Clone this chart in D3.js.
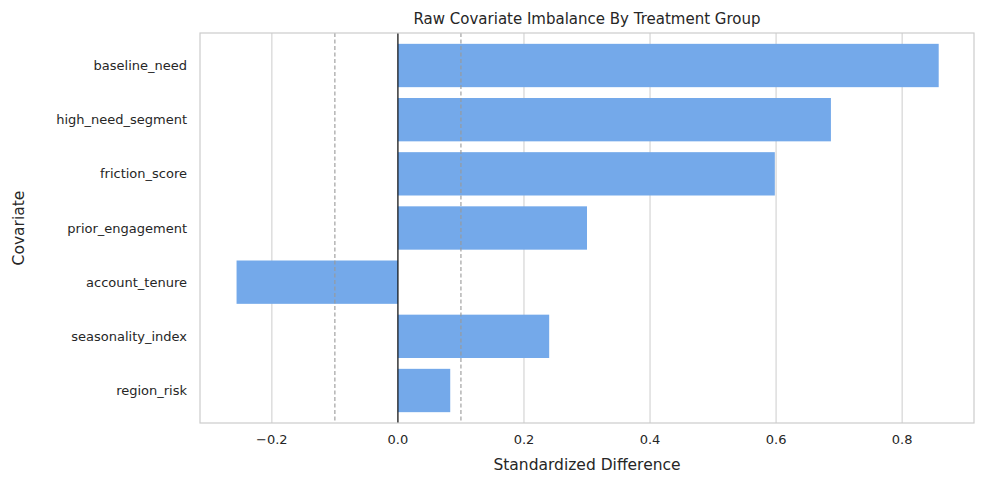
<!DOCTYPE html>
<html><head><meta charset="utf-8">
<script src="https://cdn.jsdelivr.net/npm/d3@7"></script>
<style>body{margin:0;background:#fff}text{font-family:"DejaVu Sans",sans-serif;fill:#262626}</style>
</head><body><div id="graph"></div>
<script>
const covariates = ["baseline_need","high_need_segment","friction_score","prior_engagement","account_tenure","seasonality_index","region_risk"];
const stdDiff = [0.858, 0.687, 0.598, 0.300, -0.256, 0.240, 0.083];
const xTicks = [-0.2, 0, 0.2, 0.4, 0.6, 0.8];
const thresholds = [-0.1, 0.1];

const W = 984, H = 484;
const plot = {x0: 200, x1: 974, y0: 33, y1: 423};

const svg = d3.select("#graph").append("svg").attr("width", W).attr("height", H);

const x = d3.scaleLinear().domain([-0.314, 0.914]).range([plot.x0, plot.x1]);
const y = d3.scaleBand().domain(covariates).range([plot.y0, plot.y1]).padding(0.2);

// grid
svg.append("g").selectAll("line").data(xTicks).join("line")
  .attr("x1", d => x(d)).attr("x2", d => x(d))
  .attr("y1", plot.y0).attr("y2", plot.y1)
  .attr("stroke", "#d5d5d5").attr("stroke-width", 1.2);

// bars
svg.append("g").selectAll("rect").data(covariates).join("rect")
  .attr("x", (d, i) => x(Math.min(0, stdDiff[i])))
  .attr("y", d => y(d))
  .attr("width", (d, i) => Math.abs(x(stdDiff[i]) - x(0)))
  .attr("height", y.bandwidth())
  .attr("fill", "#74a9ea");

// reference lines
svg.append("g").selectAll("line").data(thresholds).join("line")
  .attr("x1", d => x(d)).attr("x2", d => x(d))
  .attr("y1", plot.y0).attr("y2", plot.y1)
  .attr("stroke", "#999").attr("stroke-width", 1.1).attr("stroke-dasharray", "4,2.5");
svg.append("line")
  .attr("x1", x(0)).attr("x2", x(0)).attr("y1", plot.y0).attr("y2", plot.y1)
  .attr("stroke", "#000").attr("stroke-width", 1.1);

// frame
svg.append("rect").attr("x", plot.x0).attr("y", plot.y0)
  .attr("width", plot.x1 - plot.x0).attr("height", plot.y1 - plot.y0)
  .attr("fill", "none").attr("stroke", "#cccccc").attr("stroke-width", 1.2);

// tick labels
svg.append("g").selectAll("text").data(xTicks).join("text")
  .attr("x", d => x(d)).attr("y", plot.y1 + 21)
  .attr("text-anchor", "middle").attr("font-size", 13)
  .text(d => d3.format(".1f")(d).replace("-", "\u2212"));

svg.append("g").selectAll("text").data(covariates).join("text")
  .attr("x", plot.x0 - 13).attr("y", d => y(d) + y.bandwidth() / 2)
  .attr("dy", "0.35em").attr("text-anchor", "end").attr("font-size", 13)
  .text(d => d);

// titles
svg.append("text").attr("x", (plot.x0 + plot.x1) / 2).attr("y", 24)
  .attr("text-anchor", "middle").attr("font-size", 15)
  .text("Raw Covariate Imbalance By Treatment Group");
svg.append("text").attr("x", (plot.x0 + plot.x1) / 2).attr("y", 470)
  .attr("text-anchor", "middle").attr("font-size", 15.5)
  .text("Standardized Difference");
svg.append("text").attr("transform", `translate(24,${(plot.y0 + plot.y1) / 2}) rotate(-90)`)
  .attr("text-anchor", "middle").attr("font-size", 15.5)
  .text("Covariate");
</script></body></html>
